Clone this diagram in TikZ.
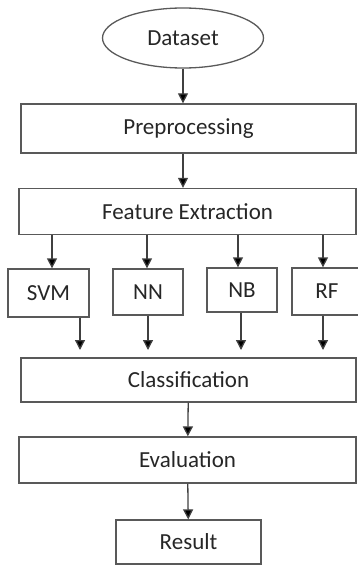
\documentclass[tikz,border=0pt]{standalone}
\usepackage{fontspec}
\setmainfont{Carlito}
\usetikzlibrary{shapes.geometric,
                arrows.meta}

\begin{document}
\begin{tikzpicture}[x=1pt, y=-1pt,
box/.style  = {draw=black!65, line width=1.3pt, text=black!85,
               font=\fontsize{23}{27}\selectfont, inner sep=0pt},
stage/.style = {box, minimum width=335pt, minimum height=46pt},
method/.style = {box, minimum width=70pt, minimum height=46pt},
arr/.style  = {draw=black!75, line width=1.3pt,
               -{Triangle[width=10pt,length=10pt,fill=black]}}
                   ]
\useasboundingbox (0,0) rectangle (357,567);
% pipeline
\node[box, ellipse, minimum width=161pt, minimum height=60pt] (data) at (183,38) {Dataset};
\node[stage, minimum height=49pt] (pre)  at (188.5,128.5) {Preprocessing};
\node[stage, minimum width=337pt] (feat) at (187.5,211.5) {Feature Extraction};
% classifiers
\node[method, minimum width=81pt, minimum height=48pt] (svm) at (48.5,293) {SVM};
\node[method] (nn) at (148,292) {NN};
\node[method, minimum height=44pt] (nb) at (242,290) {NB};
\node[method, minimum height=47pt] (rf) at (327,291.5) {RF};
\node[stage, minimum height=44pt] (cls)  at (188.5,380) {Classification};
\node[stage, minimum width=337pt] (eva)  at (187.5,460) {Evaluation};
\node[box, minimum width=145pt, minimum height=44pt] (res) at (188.5,542) {Result};
% free ends above Classification
\coordinate (svmend) at (80,350);
\coordinate (nnend)  at (148,350);
\coordinate (nbend)  at (241,350);
\coordinate (rfend)  at (323,350);

\draw[arr] (data) -- (data |- pre.north);
\draw[arr] (pre.south -| data) -- (feat.north -| data);
\foreach \m/\dx in {svm/3.5, nn/-1, nb/-4, rf/-4}
    \draw[arr] ([xshift=\dx pt]feat.south -| \m) -- ([xshift=\dx pt]\m.north);
\foreach \m in {svm, nn, nb, rf}
    \draw[arr] (\m.south -| \m end) -- (\m end);
\draw[arr] (cls) -- (eva);
\draw[arr] (eva) -- (res);
\end{tikzpicture}
\end{document}
